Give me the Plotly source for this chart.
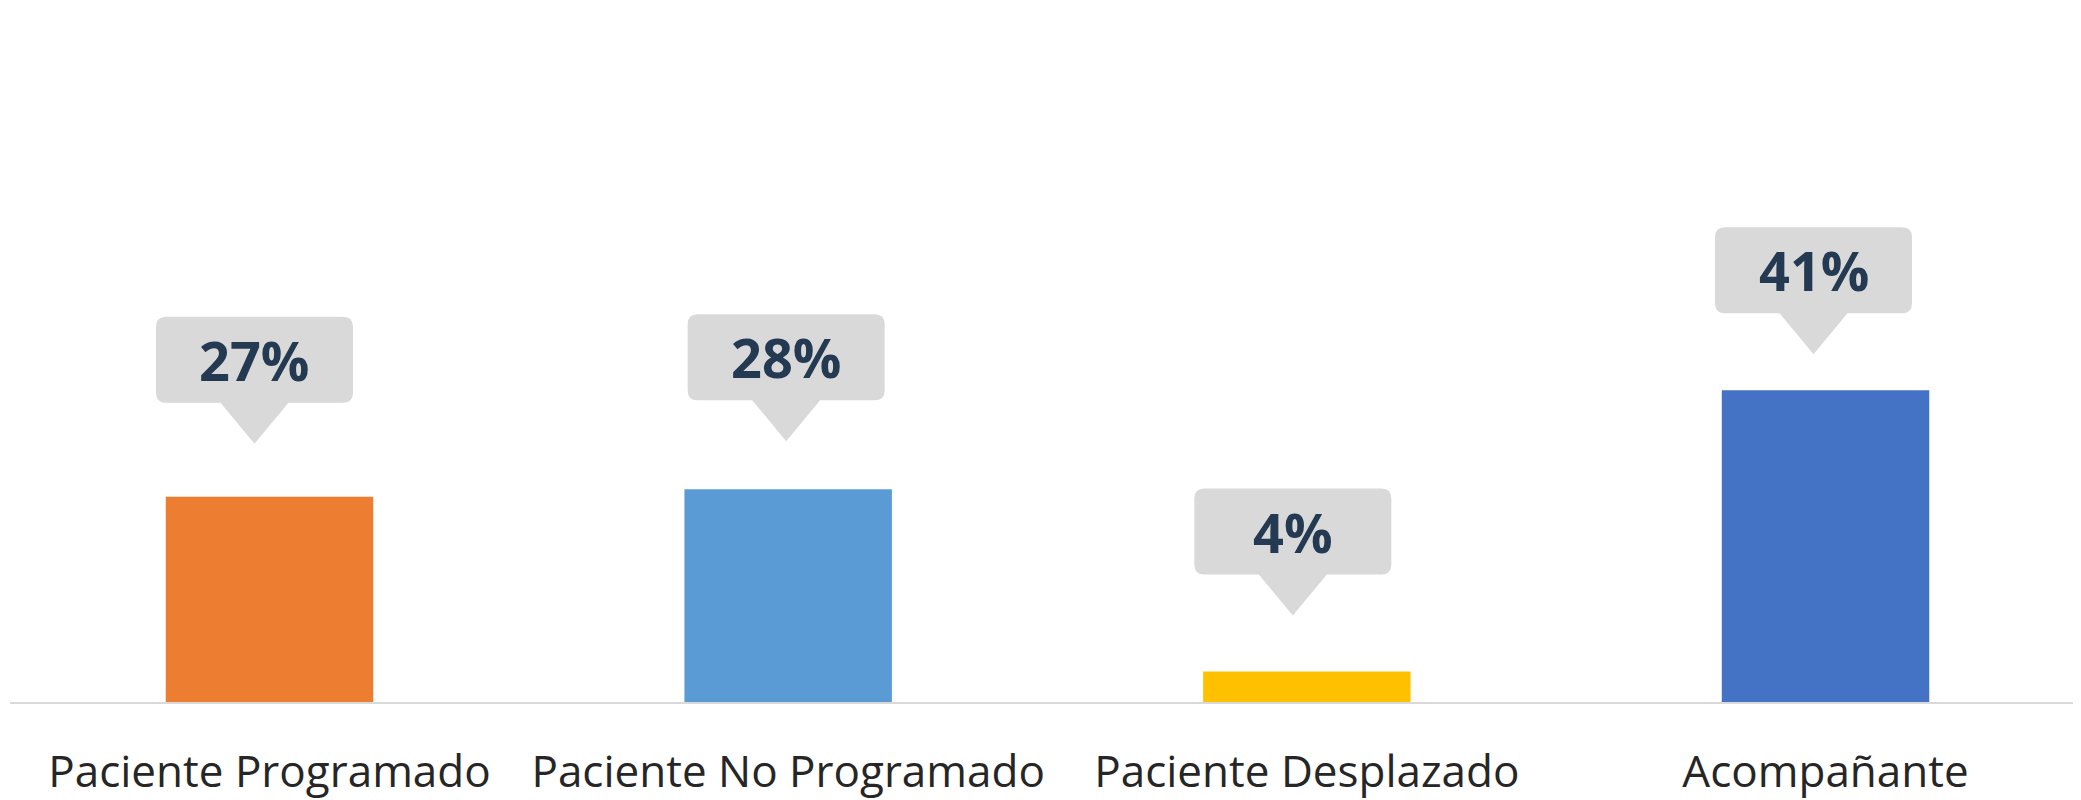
import plotly.graph_objects as go

# ---- data ----
categories = ["Paciente Programado", "Paciente No Programado", "Paciente Desplazado", "Acompañante"]
values = [27, 28, 4, 41]
value_labels = ["27%", "28%", "4%", "41%"]
bar_colors = ["#ED7D31", "#5B9BD5", "#FFC000", "#4472C4"]

# ---- callout styling (pixel offsets relative to bar top centre) ----
callout_dx = [-15, -2, -14, -12]
callout_gap = [53, 48, 56, 36]
BOX_W, BOX_H, RAD = 197, 86, 10
TRI_HALF, TRI_H = 34, 41
BOX_COLOR = "#D9D9D9"
TEXT_COLOR = "#243A52"


def callout_path(dx, gap):
    b = gap + TRI_H
    t = b + BOX_H
    l = dx - BOX_W / 2
    r = dx + BOX_W / 2
    return (
        f"M {l+RAD},{t} L {r-RAD},{t} Q {r},{t} {r},{t-RAD} "
        f"L {r},{b+RAD} Q {r},{b} {r-RAD},{b} "
        f"L {dx+TRI_HALF},{b} L {dx},{gap} L {dx-TRI_HALF},{b} "
        f"L {l+RAD},{b} Q {l},{b} {l},{b+RAD} "
        f"L {l},{t-RAD} Q {l},{t} {l+RAD},{t} Z"
    )


fig = go.Figure(
    go.Bar(
        x=categories,
        y=values,
        marker=dict(color=bar_colors, line=dict(width=0)),
        width=0.4,
        hoverinfo="skip",
    )
)

shapes = []
annotations = []
for cat, v, lab, dx, gap in zip(categories, values, value_labels, callout_dx, callout_gap):
    shapes.append(
        dict(
            type="path",
            xref="x",
            yref="y",
            xsizemode="pixel",
            ysizemode="pixel",
            xanchor=cat,
            yanchor=v,
            path=callout_path(dx, gap),
            fillcolor=BOX_COLOR,
            line=dict(width=0),
            layer="above",
        )
    )
    annotations.append(
        dict(
            x=cat,
            y=v,
            xref="x",
            yref="y",
            text=f"<b>{lab}</b>",
            showarrow=False,
            xshift=dx,
            yshift=gap + TRI_H + BOX_H / 2,
            xanchor="center",
            yanchor="middle",
            font=dict(family="Open Sans", size=54, color=TEXT_COLOR),
        )
    )

fig.update_layout(
    width=2081,
    height=800,
    margin=dict(l=2, r=0, t=0, b=106),
    paper_bgcolor="white",
    plot_bgcolor="white",
    showlegend=False,
    shapes=shapes,
    annotations=annotations,
    xaxis=dict(
        type="category",
        range=[-0.5003, 3.508],
        showline=True,
        linecolor="#D9D9D9",
        linewidth=2,
        showgrid=False,
        ticks="",
        ticklabelstandoff=30,
        tickfont=dict(family="Open Sans", size=44, color="#262626"),
        fixedrange=True,
    ),
    yaxis=dict(
        range=[0, 91.3],
        visible=False,
        showgrid=False,
        zeroline=False,
        fixedrange=True,
    ),
)

fig.write_html("out.html")
